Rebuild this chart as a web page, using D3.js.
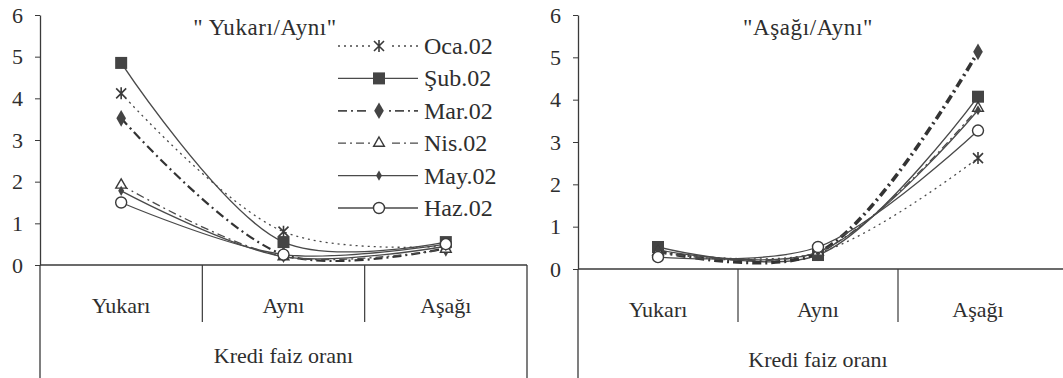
<!DOCTYPE html>
<html><head><meta charset="utf-8">
<script src="https://cdn.jsdelivr.net/npm/d3@7/dist/d3.min.js"></script>
<style>body{margin:0;background:#fff}svg{display:block}</style>
</head><body><svg id="c" width="1063" height="378"></svg>
<script>
const categories = ["Yukarı", "Aynı", "Aşağı"];
const seriesNames = ["Oca.02", "Şub.02", "Mar.02", "Nis.02", "May.02", "Haz.02"];
const yTicks = [0, 1, 2, 3, 4, 5, 6];
// left panel "Yukarı/Aynı"
const leftOca = [4.12, 0.8, 0.45];
const leftSub = [4.85, 0.55, 0.55];
const leftMar = [3.52, 0.25, 0.4];
const leftNis = [1.92, 0.2, 0.38];
const leftMay = [1.78, 0.2, 0.45];
const leftHaz = [1.5, 0.25, 0.5];
// right panel "Aşağı/Aynı"
const rightOca = [0.4, 0.38, 2.62];
const rightSub = [0.52, 0.33, 4.07];
const rightMar = [0.42, 0.38, 5.13];
const rightNis = [0.4, 0.4, 3.8];
const rightMay = [0.45, 0.4, 3.75];
const rightHaz = [0.28, 0.52, 3.27];
const titles = ['" Yukarı/Aynı"', '"Aşağı/Aynı"'];
const xTitle = "Kredi faiz oranı";

const FONT = "Liberation Serif";
const svg = d3.select("#c");
const ink = "#3a3a3a";
const txt = "#2e2e2e";
const styles = [
  {dash: "2,4", w: 1.3, marker: "asterisk"},
  {dash: null, w: 1.4, marker: "square"},
  {dash: "9,4,2,4", w: 2.2, marker: "diamond"},
  {dash: "8,4,2,4", w: 1.3, marker: "triangle"},
  {dash: null, w: 1.3, marker: "smalldiamond"},
  {dash: null, w: 1.3, marker: "circle"}
];

function T(g, x, y, s, size, anchor) {
  return g.append("text").attr("x", x).attr("y", y).attr("font-family", FONT).attr("font-size", size)
    .attr("fill", txt).attr("text-anchor", anchor || "start").text(s);
}

function drawMarker(g, type, x, y) {
  if (type === "asterisk") {
    const s = 5;
    g.append("path").attr("d", `M${x-s},${y-s}L${x+s},${y+s}M${x-s},${y+s}L${x+s},${y-s}M${x},${y-s-1}L${x},${y+s+1}`)
      .attr("stroke", ink).attr("stroke-width", 1.6).attr("fill", "none");
  } else if (type === "square") {
    g.append("rect").attr("x", x-6).attr("y", y-6).attr("width", 12).attr("height", 12).attr("fill", "#444");
  } else if (type === "diamond") {
    g.append("path").attr("d", d3.symbol(d3.symbolDiamond, 80)()).attr("transform", `translate(${x},${y})`).attr("fill", "#444");
  } else if (type === "smalldiamond") {
    g.append("path").attr("d", d3.symbol(d3.symbolDiamond, 30)()).attr("transform", `translate(${x},${y})`).attr("fill", "#444");
  } else if (type === "triangle") {
    g.append("path").attr("d", d3.symbol(d3.symbolTriangle, 50)()).attr("transform", `translate(${x},${y})`)
      .attr("fill", "#fff").attr("stroke", ink).attr("stroke-width", 1.4);
  } else if (type === "circle") {
    g.append("circle").attr("cx", x).attr("cy", y).attr("r", 5.5).attr("fill", "#fff").attr("stroke", ink).attr("stroke-width", 1.4);
  }
}

function panel(cfg) {
  const g = svg.append("g");
  const x = d3.scaleBand().domain(categories).range([cfg.x0, cfg.x1]);
  const y = d3.scaleLinear().domain([0, 6]).range([cfg.y0, 15]);
  // y axis
  const ya = g.append("g").attr("transform", `translate(${cfg.x0},0)`)
    .call(d3.axisLeft(y).tickValues(yTicks).tickFormat(d3.format("d")).tickSize(5).tickSizeOuter(0).tickPadding(12));
  ya.attr("font-family", FONT).attr("font-size", 22);
  ya.select(".domain").attr("stroke", ink).attr("stroke-width", 1.3);
  ya.selectAll(".tick line").attr("stroke", ink);
  ya.selectAll(".tick text").attr("font-family", FONT).attr("font-size", 22).attr("fill", txt);
  // axis down to bottom
  g.append("line").attr("x1", cfg.x0).attr("x2", cfg.x0).attr("y1", cfg.y0).attr("y2", 378).attr("stroke", ink).attr("stroke-width", 1.3);
  // x axis line
  g.append("line").attr("x1", cfg.x0).attr("x2", cfg.xl).attr("y1", cfg.y0).attr("y2", cfg.y0).attr("stroke", ink).attr("stroke-width", 1.5);
  // dividers
  categories.slice(1).forEach(c => {
    g.append("line").attr("x1", x(c)).attr("x2", x(c)).attr("y1", cfg.y0).attr("y2", 322).attr("stroke", ink).attr("stroke-width", 1.2);
  });
  if (cfg.rightEdge) g.append("line").attr("x1", cfg.x1).attr("x2", cfg.x1).attr("y1", cfg.y0).attr("y2", 378).attr("stroke", ink).attr("stroke-width", 1.3);
  categories.forEach(c => T(g, x(c) + x.bandwidth()/2, cfg.y0 + 48, c, 22, "middle"));
  T(g, (cfg.x0 + cfg.x1)/2, cfg.y0 + 98, xTitle, 22, "middle");
  T(g, cfg.tx, 35, cfg.title, 23, "middle").attr("letter-spacing", 0.6);
  // lines
  const line = d3.line().x((d, i) => x(categories[i]) + x.bandwidth()/2).y(d => y(d)).curve(d3.curveCatmullRom.alpha(0.5));
  cfg.series.forEach((vals, si) => {
    const st = styles[si];
    const w = (cfg.thick && si === 2) ? 3.6 : st.w;
    g.append("path").attr("d", line(vals)).attr("fill", "none").attr("stroke", si === 2 ? "#333" : "#4a4a4a")
      .attr("stroke-width", w).attr("stroke-dasharray", st.dash);
  });
  cfg.series.forEach((vals, si) => {
    vals.forEach((v, i) => drawMarker(g, styles[si].marker, x(categories[i]) + x.bandwidth()/2, y(v)));
  });
}

panel({x0: 40, x1: 527, xl: 527, y0: 265, tx: 265, title: titles[0], rightEdge: true,
  series: [leftOca, leftSub, leftMar, leftNis, leftMay, leftHaz]});
panel({x0: 578, x1: 1058, xl: 1063, y0: 269, tx: 808, title: titles[1], rightEdge: false, thick: true,
  series: [rightOca, rightSub, rightMar, rightNis, rightMay, rightHaz]});

// legend
const lg = svg.append("g");
seriesNames.forEach((n, i) => {
  const yy = 46 + i * 32.4;
  const st = styles[i];
  lg.append("line").attr("x1", 338).attr("x2", 418).attr("y1", yy).attr("y2", yy).attr("stroke", "#4a4a4a")
    .attr("stroke-width", i === 2 ? 1.8 : 1.3).attr("stroke-dasharray", st.dash);
  if (st.dash) lg.append("rect").attr("x", 370).attr("y", yy - 8).attr("width", 18).attr("height", 16).attr("fill", "#fff");
  drawMarker(lg, st.marker, 379, yy);
  T(lg, 424, yy + 8, n, 24);
});
</script></body></html>
